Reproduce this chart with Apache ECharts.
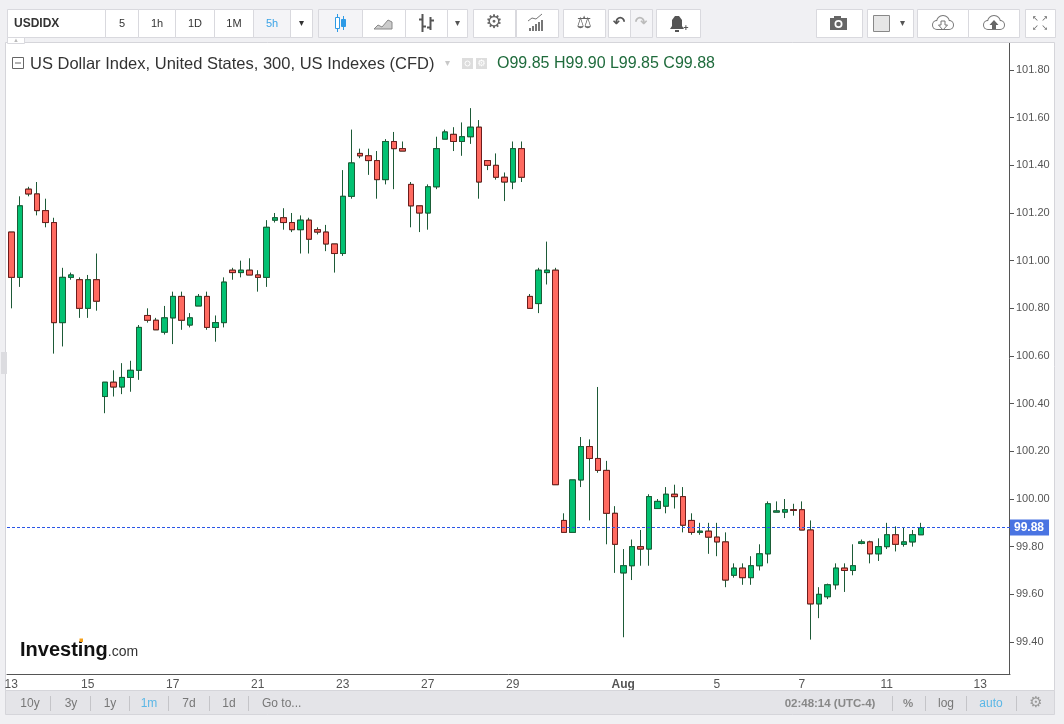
<!DOCTYPE html>
<html>
<head>
<meta charset="utf-8">
<script src="https://cdn.jsdelivr.net/npm/echarts@6/dist/echarts.min.js"></script>
<style>
html, body { margin: 0; padding: 0; background: #f0f0f3; }
#chart { width: 1064px; height: 724px; }
</style>
</head>
<body>
<div id="chart"></div>
<script>
// USD index, 5h candles
var opens = [
  101.12, 100.93, 101.30, 101.28, 101.21, 101.16, 100.74, 100.93, 100.92, 100.80,
  100.92, 100.43, 100.49, 100.47, 100.51, 100.54, 100.77, 100.75, 100.70, 100.76,
  100.85, 100.73, 100.81, 100.85, 100.72, 100.74, 100.96, 100.95, 100.96, 100.94,
  100.93, 101.17, 101.18, 101.16, 101.13, 101.17, 101.13, 101.12, 101.07, 101.03,
  101.27, 101.45, 101.44, 101.42, 101.34, 101.50, 101.47, 101.32, 101.23, 101.20,
  101.31, 101.51, 101.53, 101.50, 101.52, 101.56, 101.42, 101.40, 101.35, 101.33,
  101.47, 100.85, 100.82, 100.95, 100.96, 99.91, 99.86, 100.08, 100.22, 100.17,
  100.12, 99.94, 99.69, 99.72, 99.80, 99.79, 99.96, 99.97, 100.02, 100.01,
  99.91, 99.86, 99.865, 99.84, 99.82, 99.68, 99.71, 99.67, 99.72, 99.77,
  99.945, 99.945, 99.955, 99.955, 99.87, 99.56, 99.59, 99.64, 99.71, 99.70,
  99.814, 99.82, 99.77, 99.80, 99.85, 99.81, 99.82, 99.85
];
var highs = [
  101.12, 101.27, 101.31, 101.33, 101.26, 101.18, 100.97, 100.95, 100.93, 100.94,
  101.03, 100.49, 100.54, 100.57, 100.58, 100.73, 100.80, 100.76, 100.81, 100.87,
  100.87, 100.78, 100.86, 100.87, 100.77, 100.93, 100.97, 101.00, 101.01, 100.96,
  101.17, 101.20, 101.22, 101.20, 101.19, 101.18, 101.14, 101.15, 101.07, 101.38,
  101.55, 101.47, 101.47, 101.46, 101.51, 101.54, 101.50, 101.33, 101.23, 101.32,
  101.52, 101.55, 101.56, 101.58, 101.64, 101.59, 101.42, 101.45, 101.37, 101.50,
  101.50, 100.86, 100.97, 101.08, 100.97, 99.94, 100.08, 100.26, 100.25, 100.47,
  100.16, 99.97, 99.79, 99.83, 99.87, 100.02, 100.00, 100.05, 100.06, 100.05,
  99.94, 99.90, 99.90, 99.90, 99.86, 99.73, 99.73, 99.76, 99.81, 99.99,
  99.99, 100.00, 99.98, 99.99, 99.91, 99.63, 99.645, 99.73, 99.73, 99.81,
  99.83, 99.825, 99.835, 99.90, 99.885, 99.88, 99.87, 99.90
];
var lows = [
  100.80, 100.89, 101.27, 101.19, 101.14, 100.61, 100.64, 100.92, 100.76, 100.76,
  100.79, 100.36, 100.43, 100.44, 100.45, 100.50, 100.74, 100.71, 100.69, 100.65,
  100.71, 100.72, 100.81, 100.71, 100.66, 100.72, 100.92, 100.93, 100.94, 100.87,
  100.89, 101.16, 101.13, 101.12, 101.03, 101.03, 101.11, 101.04, 100.95, 101.02,
  101.26, 101.43, 101.36, 101.26, 101.32, 101.30, 101.46, 101.14, 101.12, 101.13,
  101.30, 101.51, 101.46, 101.44, 101.49, 101.26, 101.38, 101.34, 101.25, 101.30,
  101.33, 100.80, 100.78, 100.90, 100.06, 99.86, 99.86, 100.05, 99.91, 100.11,
  99.81, 99.69, 99.42, 99.66, 99.72, 99.72, 99.96, 99.94, 99.96, 99.86,
  99.85, 99.85, 99.77, 99.76, 99.63, 99.67, 99.64, 99.64, 99.70, 99.73,
  99.945, 99.92, 99.93, 99.87, 99.41, 99.50, 99.58, 99.62, 99.61, 99.68,
  99.81, 99.73, 99.74, 99.79, 99.78, 99.80, 99.80, 99.85
];
var closes = [
  100.93, 101.23, 101.28, 101.21, 101.16, 100.74, 100.93, 100.94, 100.80, 100.92,
  100.83, 100.49, 100.47, 100.51, 100.54, 100.72, 100.75, 100.71, 100.76, 100.85,
  100.75, 100.76, 100.85, 100.72, 100.74, 100.91, 100.95, 100.96, 100.94, 100.93,
  101.14, 101.18, 101.16, 101.13, 101.17, 101.09, 101.12, 101.07, 101.03, 101.27,
  101.41, 101.44, 101.42, 101.34, 101.50, 101.47, 101.46, 101.23, 101.20, 101.31,
  101.47, 101.54, 101.50, 101.52, 101.56, 101.33, 101.40, 101.35, 101.33, 101.47,
  101.35, 100.80, 100.96, 100.96, 100.06, 99.86, 100.08, 100.22, 100.17, 100.12,
  99.94, 99.81, 99.72, 99.80, 99.79, 100.01, 99.99, 100.02, 100.01, 99.89,
  99.86, 99.865, 99.84, 99.82, 99.66, 99.71, 99.67, 99.72, 99.77, 99.98,
  99.95, 99.955, 99.952, 99.87, 99.56, 99.60, 99.64, 99.71, 99.70, 99.72,
  99.82, 99.77, 99.80, 99.85, 99.81, 99.82, 99.85, 99.88
];

// x axis: 118 slots (empty space right of the last candle), date labels at some slots
var slotCount = 118;
var tickIdx = [0, 9, 19, 29, 39, 49, 59, 72, 83, 93, 103, 114];
var tickText = ['13', '15', '17', '21', '23', '27', '29', 'Aug', '5', '7', '11', '13'];
var lastPrice = 99.88;

var FONT = 'Liberation Sans, Arial, sans-serif';
var cats = [];
for (var i = 0; i < slotCount; i++) cats.push(String(i));

var wickData = [], bodyData = [];
for (var i = 0; i < opens.length; i++) {
  wickData.push([opens[i], closes[i], lows[i], highs[i]]);
  bodyData.push([opens[i], closes[i], Math.min(opens[i], closes[i]), Math.max(opens[i], closes[i])]);
}

function showTick(idx) { return tickIdx.indexOf(idx) >= 0; }

// ---- page chrome drawn with graphic elements ----
var g = [];
function rect(x, y, w, h, fill, stroke, z) {
  g.push({ type: 'rect', z: z || 101, shape: { x: x, y: y, width: w, height: h },
    style: { fill: fill, stroke: stroke || null, lineWidth: 1 } });
}
function txt(x, y, s, font, color, align, z) {
  g.push({ type: 'text', z: z || 102, x: x, y: y,
    style: { text: s, font: font, fill: color, align: align || 'center', textAlign: align || 'center',
      verticalAlign: 'middle', textVerticalAlign: 'middle' } });
}
function line(x1, y1, x2, y2, color, w, z) {
  g.push({ type: 'line', z: z || 102, shape: { x1: x1, y1: y1, x2: x2, y2: y2 },
    style: { stroke: color, lineWidth: w || 1 } });
}
function circ(cx, cy, r, fill, z) {
  g.push({ type: 'circle', z: z || 102, shape: { cx: cx, cy: cy, r: r }, style: { fill: fill } });
}
function btn(x, w, fill) { rect(x + 0.5, 9.5, w, 28, fill || '#fff', '#d9d9de'); }
// outlined cloud: gray shapes with white copy 1px smaller on top
function cloud(cx, cy) {
  [[1, '#777', 102], [0, '#fff', 103]].forEach(function (p) {
    var d = p[0];
    circ(cx - 6, cy + 2, 4 + d, p[1], p[2]);
    circ(cx, cy - 1, 6 + d, p[1], p[2]);
    circ(cx + 6, cy + 2, 4 + d, p[1], p[2]);
    rect(cx - 6, cy + 1 - d, 12, 5 + 2 * d, p[1], null, p[2]);
  });
}

// chart panel
rect(5.5, 42.5, 1049, 648, '#fff', '#d5d5da', -10);
// toolbar strip
rect(0, 0, 1064, 42, '#f0f0f3', null, 100);
// left grip
rect(1, 352, 6, 22, '#dcdce0', null, 100);

// toolbar buttons
btn(7, 98); txt(14, 23.5, 'USDIDX', 'bold 12px ' + FONT, '#333', 'left');
var tf = [[105, 33, '5'], [138, 37, '1h'], [175, 39, '1D'], [214, 39, '1M'], [253, 37, '5h'], [290, 22, '▾']];
tf.forEach(function (b) {
  btn(b[0], b[1], b[2] === '5h' ? '#f4f4f7' : '#fff');
  txt(b[0] + b[1] / 2 + 0.5, 23.5, b[2], (b[2] === '▾' ? '10px ' : '11px ') + FONT, b[2] === '5h' ? '#3ba3e6' : '#333');
});
rect(7.5, 37.5, 17, 6, '#fff', '#d9d9de');
txt(16, 40.5, '▲', '6px ' + FONT, '#bbb');

btn(318, 44, '#f4f4f7'); btn(362, 43); btn(405, 42); btn(447, 20);
// candles icon
line(337.5, 14, 337.5, 32, '#2d9ae6'); rect(335.5, 17.5, 4, 11, '#fff', '#2d9ae6', 103);
line(343.5, 16, 343.5, 30, '#2d9ae6'); rect(341.5, 19.5, 4, 7, '#2d9ae6', '#2d9ae6', 103);
// area icon
g.push({ type: 'polygon', z: 102, shape: { points: [[374, 29], [378, 25], [382, 27], [388, 20], [392, 22], [392, 29]] },
  style: { fill: '#ccc', stroke: '#888' } });
// bars icon
line(422.5, 14, 422.5, 32, '#555', 2); line(419, 19.5, 422, 19.5, '#555', 2); line(423, 26.5, 426, 26.5, '#555', 2);
line(430.5, 17, 430.5, 30, '#555', 2); line(427, 27.5, 430, 27.5, '#555', 2); line(431, 20.5, 434, 20.5, '#555', 2);
txt(457.5, 23.5, '▾', '10px ' + FONT, '#555');

btn(473, 42); txt(494, 23.5, '⚙', '19px DejaVu Sans', '#666');
btn(516, 42);
[0, 1, 2, 3, 4].forEach(function (k) { rect(529 + k * 3, 28 - k * 2, 2, 3 + k * 2, '#777', null, 102); });
g.push({ type: 'polyline', z: 102, shape: { points: [[528, 21], [532, 18], [536, 19], [542, 14]] }, style: { stroke: '#777', fill: null } });
btn(563, 42); txt(584, 23.5, '⚖', '17px DejaVu Sans', '#666');
btn(608, 22); btn(630, 22, '#f4f4f7');
txt(619, 23.5, '↶', 'bold 15px DejaVu Sans', '#555'); txt(641, 23.5, '↷', 'bold 15px DejaVu Sans', '#bbb');
btn(656, 44);
g.push({ type: 'polygon', z: 102, shape: { points: [[670, 29], [684, 29], [682, 26], [682, 20], [679, 16], [675, 16], [672, 20], [672, 26]] }, style: { fill: '#555' } });
rect(675, 30, 4, 2, '#555', null, 102);
txt(686, 29, '+', 'bold 9px ' + FONT, '#555');

// right group
btn(816, 46);
rect(830, 18, 17, 12, '#666', null, 102); rect(834, 16, 7, 3, '#666', null, 102);
circ(838.5, 24, 4, '#fff', 103); circ(838.5, 24, 2.3, '#666', 104);
btn(867, 46); rect(873.5, 15.5, 16, 16, '#e6e6e6', '#888', 102); txt(902, 23.5, '▾', '10px ' + FONT, '#555');
btn(917, 51); btn(968, 51);
cloud(943, 23);
g.push({ type: 'polygon', z: 104, shape: { points: [[941, 21], [945, 21], [945, 25], [947.5, 25], [943, 30], [938.5, 25], [941, 25]] }, style: { fill: '#fff', stroke: '#777' } });
cloud(994, 23);
g.push({ type: 'polygon', z: 104, shape: { points: [[992, 29], [996, 29], [996, 25], [998.5, 25], [994, 20], [989.5, 25], [992, 25]] }, style: { fill: '#666' } });
btn(1025, 30);
txt(1040, 18.5, '↖ ↗', '8px DejaVu Sans', '#666'); txt(1040, 28, '↙ ↘', '8px DejaVu Sans', '#666');

// legend line
rect(12.5, 57.5, 11, 11, '#fff', '#666', 5);
line(15, 63, 21, 63, '#666', 1, 6);
txt(30, 64, 'US Dollar Index, United States, 300, US Indexes (CFD)', '16.5px ' + FONT, '#333', 'left', 6);
txt(447, 63, '▾', '10px ' + FONT, '#c8c8c8', 'center', 6);
rect(462, 58, 11, 11, '#ddd', null, 5);
g.push({ type: 'circle', z: 6, shape: { cx: 467.5, cy: 63.5, r: 2.5 }, style: { fill: null, stroke: '#fff' } });
rect(476, 58, 11, 11, '#ddd', null, 5);
txt(481.5, 63.5, '⚙', '9px DejaVu Sans', '#fff', 'center', 6);
txt(497, 64, 'O99.85 H99.90 L99.85 C99.88', '16px ' + FONT, '#1f6b3c', 'left', 6);

// watermark
g.push({ type: 'text', z: 5, x: 20, y: 650,
  style: { text: '{a|Investing}{b|.com}', verticalAlign: 'middle', textVerticalAlign: 'middle',
    rich: { a: { font: 'bold 20px ' + FONT, fill: '#111' }, b: { font: '14px ' + FONT, fill: '#333', padding: [5, 0, 0, 0] } } } });
rect(79.5, 638.5, 3.5, 3.5, '#f5a01a', null, 6);

// price axis line
line(1009.5, 43, 1009.5, 674, '#555', 1, 5);

// bottom bar
rect(5.5, 690.5, 1049, 24, '#e4e4e8', '#d5d5da', 100);
var leftBtns = [[30, '10y'], [71, '3y'], [110, '1y'], [149, '1m'], [189, '7d'], [229, '1d']];
leftBtns.forEach(function (b) { txt(b[0], 703.5, b[1], '12px ' + FONT, b[1] === '1m' ? '#5cb7e6' : '#777'); });
txt(262, 703.5, 'Go to...', '12px ' + FONT, '#777', 'left');
[50, 90, 129, 168, 209, 248, 892, 925, 966, 1016].forEach(function (x) { line(x + 0.5, 696, x + 0.5, 711, '#c4c4c8'); });
txt(830, 703.5, '02:48:14 (UTC-4)', 'bold 11.5px ' + FONT, '#888');
txt(908, 703.5, '%', 'bold 11.5px ' + FONT, '#888');
txt(946, 703.5, 'log', '12px ' + FONT, '#777');
txt(991, 703.5, 'auto', '12px ' + FONT, '#5cb7e6');
txt(1036, 703.5, '⚙', '15px DejaVu Sans', '#999');

var chart = echarts.init(document.getElementById('chart'));
chart.setOption({
  animation: false,
  backgroundColor: '#f0f0f3',
  grid: { left: 7, top: 22.33, width: 1003, height: 667.34, containLabel: false },
  xAxis: {
    type: 'category',
    data: cats,
    offset: -15.67,
    axisLine: { lineStyle: { color: '#555' } },
    axisTick: { interval: showTick, alignWithLabel: true, length: 4, lineStyle: { color: '#555' } },
    axisLabel: {
      interval: showTick, color: '#555', fontSize: 12, fontFamily: FONT, margin: 5,
      formatter: function (v, idx) {
        var t = tickText[tickIdx.indexOf(idx)];
        return t === 'Aug' ? '{b|Aug}' : t;
      },
      rich: { b: { fontWeight: 'bold', color: '#555', fontSize: 12, fontFamily: FONT } }
    },
    splitLine: { show: false }
  },
  yAxis: {
    type: 'value',
    position: 'right',
    min: 99.2, max: 102.0, interval: 0.2,
    axisLine: { show: false },
    axisTick: { show: true, length: 4, lineStyle: { color: '#555' } },
    axisLabel: { color: '#555', fontSize: 11, fontFamily: FONT, margin: 6, showMinLabel: false, showMaxLabel: false,
      formatter: function (v) { return v.toFixed(2); } },
    splitLine: { show: false }
  },
  series: [{
    name: 'wick',
    type: 'candlestick',
    z: 2,
    barWidth: 6,
    data: wickData,
    itemStyle: { color: '#02c172', color0: '#ff6a60', borderColor: '#1d5a37', borderColor0: '#1d5a37', borderWidth: 1 }
  }, {
    name: 'body',
    type: 'candlestick',
    z: 3,
    barWidth: 6,
    data: bodyData,
    itemStyle: { color: '#02c172', color0: '#ff6a60', borderColor: '#1b5e37', borderColor0: '#6e1c1c', borderWidth: 1 },
    markLine: {
      silent: true,
      symbol: ['none', 'none'],
      lineStyle: { color: '#2a55e6', type: [3, 2], width: 1.2, opacity: 1 },
      emphasis: { disabled: true },
      label: {
        show: true, position: 'end', distance: 0,
        formatter: lastPrice.toFixed(2),
        color: '#fff', backgroundColor: '#4a74e2', fontSize: 12, fontWeight: 'bold', fontFamily: FONT,
        padding: [2, 5, 2, 4]
      },
      data: [{
        yAxis: lastPrice,
        lineStyle: { color: '#2a55e6', type: [3, 2], width: 1.2 },
        itemStyle: { color: '#2a55e6' }
      }]
    }
  }],
  graphic: { elements: g }
});
</script>
</body>
</html>
